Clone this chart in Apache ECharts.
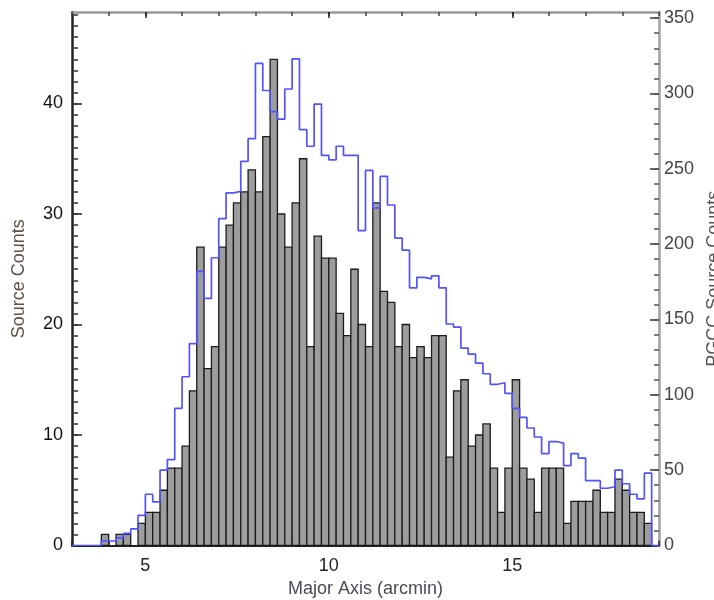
<!DOCTYPE html>
<html>
<head>
<meta charset="utf-8">
<script src="https://cdn.jsdelivr.net/npm/echarts@6/dist/echarts.min.js"></script>
<style>
html,body{margin:0;padding:0;background:#fff;}
#chart{width:714px;height:600px;}
</style>
</head>
<body>
<div id="chart"></div>
<script>
// Histogram bins: left edge of first bin and bin width (arcmin)
const binStart = 3.0;
const binWidth = 0.2;
// Source counts per bin (left axis, grey bars)
const sourceCounts = [
  0, 0, 0, 0, 1, 0, 1, 1, 0, 2,
  3, 3, 5, 7, 7, 9, 14, 27, 16, 18,
  27, 29, 31, 32, 34, 32, 37, 44, 30, 27,
  31, 35, 18, 28, 26, 26, 21, 19, 25, 20,
  18, 31, 23, 22, 18, 20, 17, 18, 17, 19,
  19, 8, 14, 15, 9, 10, 11, 7, 3, 7,
  15, 7, 6, 3, 7, 7, 7, 2, 4, 4,
  4, 5, 3, 3, 6, 5, 3, 3, 2, 0
];
// PGCC source counts per bin (right axis, blue step line)
const pgccCounts = [
  0, 0, 0, 0, 3, 3, 5, 8, 11, 20,
  34, 29, 50, 57, 91, 112, 134, 182, 164, 191,
  217, 234, 235, 255, 270, 320, 302, 288, 283, 303,
  323, 276, 265, 293, 259, 256, 265, 259, 259, 209,
  249, 224, 245, 226, 204, 196, 171, 178, 177, 179,
  171, 147, 145, 131, 127, 121, 114, 107, 108, 101,
  91, 85, 78, 72, 61, 69, 68, 53, 61, 58,
  43, 43, 38, 39, 50, 41, 34, 31, 48, 0
];
// Tick labels
const xTickLabels = [5, 10, 15];
const leftTickLabels = [0, 10, 20, 30, 40];
const rightTickLabels = [0, 50, 100, 150, 200, 250, 300, 350];

const xMin = 3, xMax = 19;
const leftMax = 48.28, rightMax = 354.1;

const r2 = v => Math.round(v * 1000) / 1000;
const barData = sourceCounts.map((v, i) => [r2(binStart + i * binWidth), r2(binStart + (i + 1) * binWidth), v]);
const lineData = pgccCounts.map((v, i) => [r2(binStart + i * binWidth), v]);
lineData.push([r2(binStart + pgccCounts.length * binWidth), pgccCounts[pgccCounts.length - 1]]);

const range = (a, b, s) => { const out = []; for (let v = a; v <= b + 1e-9; v += s) out.push(r2(v)); return out; };

const FONT = "'Liberation Sans', Arial, Helvetica, sans-serif";

const chart = echarts.init(document.getElementById('chart'), null, {renderer: 'canvas'});
chart.setOption({
  animation: false,
  backgroundColor: '#ffffff',
  grid: {left: 72, right: 55, top: 12, bottom: 54.5, containLabel: false, outerBoundsMode: 'none'},
  xAxis: [
    {
      type: 'value', position: 'bottom', min: xMin, max: xMax,
      name: 'Major Axis (arcmin)', nameLocation: 'middle', nameGap: 32,
      nameTextStyle: {fontFamily: FONT, fontSize: 18, color: '#4a4a58'},
      axisLine: {show: true, onZero: false, lineStyle: {color: '#222', width: 2}},
      axisTick: {show: true, inside: true, length: 5, customValues: range(xMin, xMax, 1), lineStyle: {color: '#222', width: 1.5}},
      axisLabel: {show: true, customValues: xTickLabels, margin: 12, fontFamily: FONT, fontSize: 18, color: '#222'},
      splitLine: {show: false}
    },
    {
      type: 'value', position: 'top', min: xMin, max: xMax,
      axisLine: {show: true, onZero: false, lineStyle: {color: '#9a9a9a', width: 2.5}},
      axisTick: {show: true, inside: true, length: 4, customValues: range(xMin, xMax, 1), lineStyle: {color: '#444', width: 1.5}},
      axisLabel: {show: false},
      splitLine: {show: false}
    },
    {
      type: 'value', position: 'top', min: xMin, max: xMax,
      axisLine: {show: false, onZero: false},
      axisTick: {show: true, inside: true, length: 6, customValues: xTickLabels, lineStyle: {color: '#222', width: 1.5}},
      axisLabel: {show: false},
      splitLine: {show: false}
    }
  ],
  yAxis: [
    {
      type: 'value', position: 'left', min: 0, max: leftMax,
      name: 'Source Counts', nameLocation: 'middle', nameGap: 44, nameRotate: 90,
      nameTextStyle: {fontFamily: FONT, fontSize: 18, color: '#5e5249'},
      axisLine: {show: true, onZero: false, lineStyle: {color: '#222', width: 2.5}},
      axisTick: {show: true, inside: true, length: 10, customValues: leftTickLabels, lineStyle: {color: '#222', width: 1.5}},
      axisLabel: {show: true, customValues: leftTickLabels, margin: 9, fontFamily: FONT, fontSize: 18, color: '#111'},
      splitLine: {show: false}
    },
    {
      type: 'value', position: 'right', min: 0, max: rightMax,
      name: 'PGCC Source Counts', nameLocation: 'middle', nameGap: 41, nameRotate: 90,
      nameTextStyle: {fontFamily: FONT, fontSize: 18, color: '#555'},
      axisLine: {show: true, onZero: false, lineStyle: {color: '#a0a0a0', width: 2.5}},
      axisTick: {show: true, inside: true, length: 9, customValues: rightTickLabels, lineStyle: {color: '#333', width: 1.5}},
      axisLabel: {show: true, customValues: rightTickLabels, margin: 5, fontFamily: FONT, fontSize: 18, color: '#444'},
      splitLine: {show: false}
    },
    {
      type: 'value', position: 'left', min: 0, max: leftMax,
      axisLine: {show: false, onZero: false},
      axisTick: {show: true, inside: true, length: 6, customValues: range(0, 48, 1), lineStyle: {color: '#333', width: 1.5}},
      axisLabel: {show: false},
      splitLine: {show: false}
    },
    {
      type: 'value', position: 'right', min: 0, max: rightMax,
      axisLine: {show: false, onZero: false},
      axisTick: {show: true, inside: true, length: 5, customValues: range(0, 350, 10), lineStyle: {color: '#555', width: 1.5}},
      axisLabel: {show: false},
      splitLine: {show: false}
    }
  ],
  series: [
    {
      type: 'custom',
      xAxisIndex: 0, yAxisIndex: 0,
      encode: {x: [0, 1], y: 2},
      data: barData,
      z: 2,
      renderItem: function (params, api) {
        const x0 = api.value(0), x1 = api.value(1), v = api.value(2);
        if (!(v > 0)) return null;
        const p0 = api.coord([x0, v]);
        const p1 = api.coord([x1, 0]);
        return {
          type: 'rect',
          shape: {x: p0[0], y: p0[1], width: p1[0] - p0[0], height: p1[1] - p0[1]},
          style: {fill: '#9d9d9d', stroke: '#1c1c1c', lineWidth: 1.3}
        };
      }
    },
    {
      type: 'line',
      xAxisIndex: 0, yAxisIndex: 1,
      step: 'end',
      data: lineData,
      symbol: 'none',
      z: 3,
      lineStyle: {color: '#5252ff', width: 1.7},
      clip: true
    }
  ]
});
</script>
</body>
</html>
